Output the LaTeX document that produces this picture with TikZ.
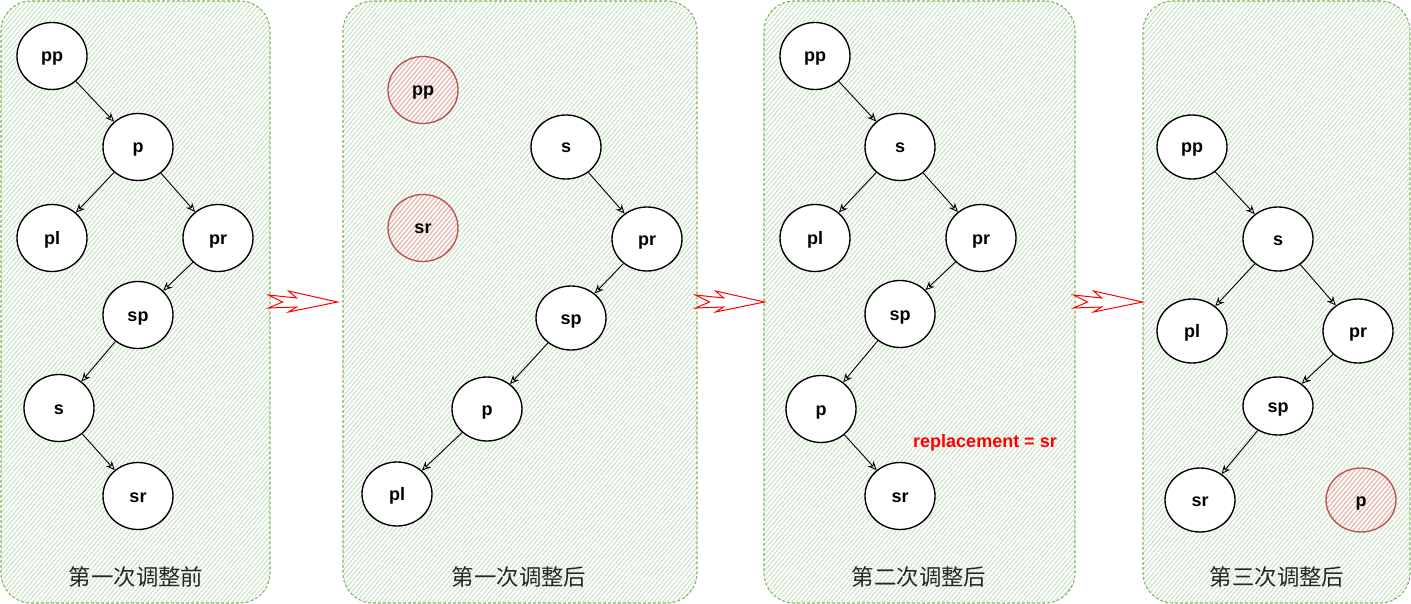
\documentclass[tikz,border=0pt]{standalone}
\usepackage{fontspec}
\setmainfont{Liberation Sans}
\newfontfamily\cjkfont{Noto Sans CJK SC}
\usetikzlibrary{arrows.meta,patterns.meta,shapes.geometric}
\definecolor{pstroke}{HTML}{82B366}
\definecolor{phatch}{HTML}{C8E1C4}
\definecolor{rstroke}{HTML}{B85450}
\definecolor{rhatch}{HTML}{F0B4B0}
\definecolor{arrred}{HTML}{FF0000}
\definecolor{labgray}{HTML}{262626}
\begin{document}
\begin{tikzpicture}[x=1pt,y=-1pt,
  panel/.style={rectangle, draw=pstroke, dash pattern=on 3pt off 2pt, line width=1.1pt,
    rounded corners=30pt, minimum height=602pt, inner sep=0pt,
    pattern={Lines[angle=50,distance=3.4pt,line width=1.1pt]}, pattern color=phatch},
  tn/.style={ellipse, draw=black, line width=1.35pt, fill=white, minimum width=70pt,
    minimum height=67pt, inner sep=0pt, text height=12pt, text depth=0pt,
    font=\bfseries\fontsize{18}{20}\selectfont},
  rn/.style={tn, fill=none, draw=rstroke,
    pattern={Lines[angle=50,distance=3.4pt,line width=1.1pt]}, pattern color=rhatch},
  edge/.style={draw=black, line width=0.9pt, -{Stealth[open,length=9pt,width=8pt]}},
  lab/.style={font=\cjkfont\fontsize{22.4}{24}\selectfont, text=labgray},
  redlab/.style={font=\bfseries\fontsize{18}{20}\selectfont, text=arrred},
  bigarrow/.style={draw=arrred, line width=1pt, line join=miter, fill=white}
]
\useasboundingbox (0,0) rectangle (1411,604);

% panels
\node[panel, minimum width=269pt] (P1) at (135.5,302) {};
\node[panel, minimum width=354pt] (P2) at (520,302) {};
\node[panel, minimum width=311pt] (P3) at (919.5,302) {};
\node[panel, minimum width=267pt] (P4) at (1276.5,302) {};

% block arrows between panels
\foreach \pa in {P1,P2,P3}{
  \draw[bigarrow, shift={(\pa.east)}, xshift=-2pt]
    (0,-7) -- (28,-4) -- (20,-11) -- (69,0) -- (20,10) -- (28,5) -- (0,6) -- (14,0) -- cycle;
}

% panel 1
\node[tn] (app) at (52,56) {pp};
\node[tn] (ap) at (138,147) {p};
\node[tn] (apl) at (52,238) {pl};
\node[tn] (apr) at (218,238) {pr};
\node[tn] (asp) at (138,315) {sp};
\node[tn] (as) at (59,408) {s};
\node[tn] (asr) at (138,496) {sr};
\draw[edge] (app) -- (ap);
\draw[edge] (ap) -- (apl);
\draw[edge] (ap) -- (apr);
\draw[edge] (apr) -- (asp);
\draw[edge] (asp) -- (as);
\draw[edge] (as) -- (asr);
\node[lab] (l1) at (136,577) {第一次调整前};

% panel 2
\node[rn] (bpp) at (423,90) {pp};
\node[rn] (bsr) at (423,228) {sr};
\node[tn, minimum height=64pt] (bs) at (566,147) {s};
\node[tn, minimum height=64pt] (bpr) at (647,239) {pr};
\node[tn, minimum height=64pt] (bsp) at (571,318) {sp};
\node[tn, minimum height=64pt] (bp) at (487,409) {p};
\node[tn, minimum height=64pt] (bpl) at (397,494) {pl};
\draw[edge] (bs) -- (bpr);
\draw[edge] (bpr) -- (bsp);
\draw[edge] (bsp) -- (bp);
\draw[edge] (bp) -- (bpl);
\node[lab] (l2) at (519,577) {第一次调整后};

% panel 3
\node[tn] (cpp) at (815,56) {pp};
\node[tn] (cs) at (900,147) {s};
\node[tn] (cpl) at (815,238) {pl};
\node[tn] (cpr) at (981,238) {pr};
\node[tn] (csp) at (900,314) {sp};
\node[tn] (cp) at (821,409) {p};
\node[tn] (csr) at (900,496) {sr};
\draw[edge] (cpp) -- (cs);
\draw[edge] (cs) -- (cpl);
\draw[edge] (cs) -- (cpr);
\draw[edge] (cpr) -- (csp);
\draw[edge] (csp) -- (cp);
\draw[edge] (cp) -- (csr);
\node[redlab] (rep) at (985,443) {replacement = sr};
\node[lab] (l3) at (919,577) {第二次调整后};

% panel 4
\node[tn, minimum height=64pt] (dpp) at (1192,147) {pp};
\node[tn, minimum height=64pt] (ds) at (1278,239) {s};
\node[tn, minimum height=64pt] (dpl) at (1192,331) {pl};
\node[tn, minimum height=64pt] (dpr) at (1358,331) {pr};
\node[tn, minimum height=58pt] (dsp) at (1278,406) {sp};
\node[tn, minimum height=64pt] (dsr) at (1200,500) {sr};
\node[rn, minimum height=64pt] (dp) at (1361,500) {p};
\draw[edge] (dpp) -- (ds);
\draw[edge] (ds) -- (dpl);
\draw[edge] (ds) -- (dpr);
\draw[edge] (dpr) -- (dsp);
\draw[edge] (dsp) -- (dsr);
\node[lab] (l4) at (1277,577) {第三次调整后};
\end{tikzpicture}
\end{document}
